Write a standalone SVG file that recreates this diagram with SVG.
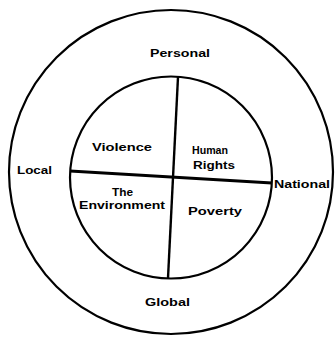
<svg xmlns="http://www.w3.org/2000/svg" width="336" height="341" viewBox="0 0 336 341">
<style>
.c{fill:none;stroke:#000;stroke-width:2.2}
.l{stroke:#000;stroke-width:2.4;fill:none}
text{font-family:"Liberation Sans",Arial,sans-serif;font-weight:bold;font-size:10.5px;fill:#000}
</style>
<rect width="336" height="341" fill="#fff"/>
<g id="outer"><circle class="c" cx="171" cy="172" r="162"/></g>
<g id="inner"><circle class="c" cx="171" cy="177.5" r="101"/></g>
<g id="connectors">
<line class="l" x1="178" y1="77" x2="168" y2="278"/>
<line class="l" x1="70" y1="171" x2="272" y2="183" style="stroke-width:3"/>
</g>
<g id="personal"><text x="150" y="57" textLength="60" lengthAdjust="spacingAndGlyphs">Personal</text></g>
<g id="violence"><text x="92" y="151" textLength="60" lengthAdjust="spacingAndGlyphs">Violence</text></g>
<g id="human-rights"><text x="192" y="154" textLength="36" lengthAdjust="spacingAndGlyphs">Human</text><text x="193" y="169" textLength="42" lengthAdjust="spacingAndGlyphs">Rights</text></g>
<g id="local"><text x="17" y="174" textLength="35" lengthAdjust="spacingAndGlyphs">Local</text></g>
<g id="national"><text x="274" y="188" textLength="56" lengthAdjust="spacingAndGlyphs">National</text></g>
<g id="environment"><text x="112" y="196" textLength="21" lengthAdjust="spacingAndGlyphs">The</text><text x="79" y="209" textLength="86" lengthAdjust="spacingAndGlyphs">Environment</text></g>
<g id="poverty"><text x="188" y="215" textLength="54" lengthAdjust="spacingAndGlyphs">Poverty</text></g>
<g id="global"><text x="145" y="306" textLength="45" lengthAdjust="spacingAndGlyphs">Global</text></g>
</svg>
